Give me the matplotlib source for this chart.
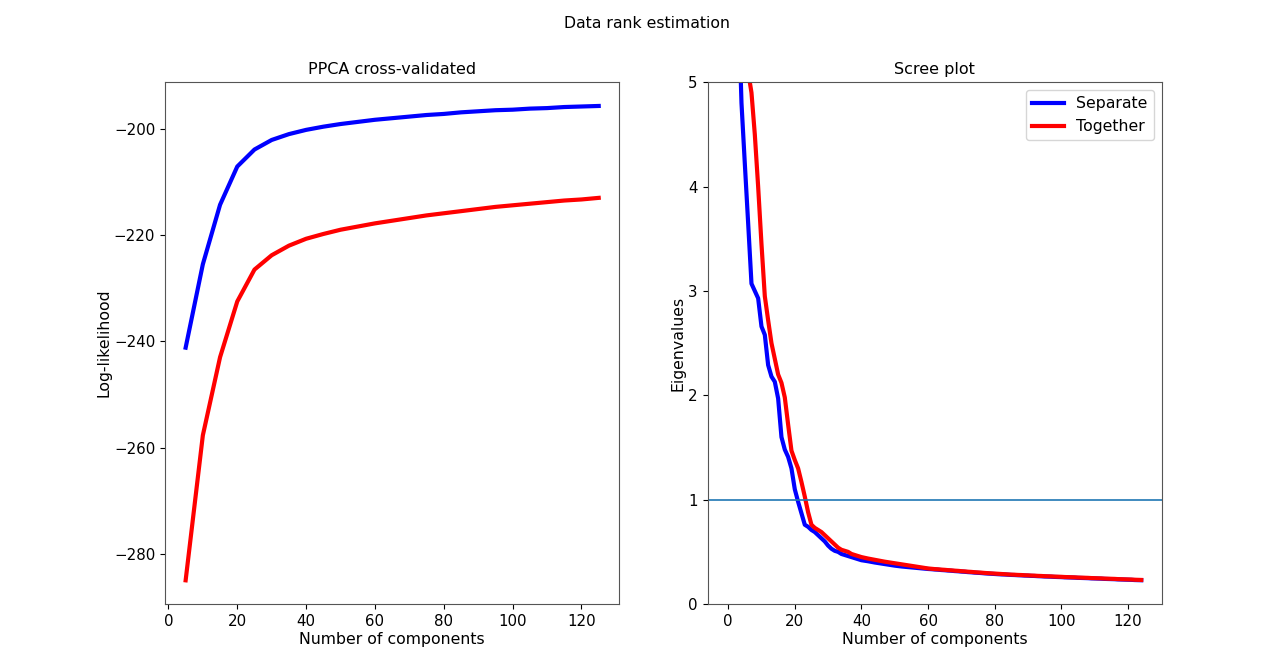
import matplotlib
matplotlib.use("Agg")
import matplotlib.pyplot as plt
import numpy as np

# ---- Data ----
n_components_cv = [5, 10, 15, 20, 25, 30, 35, 40, 45, 50, 55, 60, 65, 70, 75,
                   80, 85, 90, 95, 100, 105, 110, 115, 120, 125]
ll_separate = [-241.2, -225.5, -214.3, -207.1, -203.9, -202.1, -201.0, -200.2,
               -199.6, -199.1, -198.7, -198.3, -198.0, -197.7, -197.4, -197.2,
               -196.9, -196.7, -196.5, -196.4, -196.2, -196.1, -195.9, -195.8,
               -195.7]
ll_together = [-285.0, -257.7, -243.0, -232.5, -226.5, -223.8, -222.0, -220.7,
               -219.8, -219.0, -218.4, -217.8, -217.3, -216.8, -216.3, -215.9,
               -215.5, -215.1, -214.7, -214.4, -214.1, -213.8, -213.5, -213.3,
               -213.0]

eig_separate = [
    30.0, 15.0, 8.0, 5.85, 4.80, 4.22, 3.65, 3.07, 3.00, 2.93,
    2.66, 2.58, 2.29, 2.18, 2.13, 1.97, 1.60, 1.48, 1.41, 1.30,
    1.10, 0.98, 0.87, 0.76, 0.74, 0.71, 0.69, 0.66, 0.63, 0.60,
    0.56, 0.53, 0.51, 0.50, 0.48, 0.47, 0.46, 0.45, 0.44, 0.43,
    0.420, 0.415, 0.410, 0.404, 0.398, 0.393, 0.388, 0.383, 0.378, 0.373,
    0.368, 0.364, 0.360, 0.357, 0.354, 0.351, 0.348, 0.345, 0.342, 0.339,
    0.336, 0.334, 0.331, 0.329, 0.326, 0.324, 0.321, 0.319, 0.316, 0.314,
    0.311, 0.309, 0.306, 0.304, 0.301, 0.299, 0.297, 0.294, 0.292, 0.290,
    0.288, 0.286, 0.284, 0.283, 0.281, 0.279, 0.278, 0.276, 0.275, 0.273,
    0.272, 0.270, 0.269, 0.267, 0.266, 0.264, 0.263, 0.262, 0.260, 0.259,
    0.258, 0.256, 0.255, 0.254, 0.253, 0.251, 0.250, 0.249, 0.248, 0.246,
    0.245, 0.244, 0.243, 0.241, 0.240, 0.239, 0.238, 0.236, 0.235, 0.234,
    0.233, 0.232, 0.230, 0.229, 0.228]

eig_together = [
    40.0, 20.0, 11.0, 7.5, 6.3, 5.7, 5.1, 4.9, 4.5, 4.0,
    3.45, 2.95, 2.72, 2.50, 2.35, 2.20, 2.12, 1.98, 1.72, 1.47,
    1.38, 1.30, 1.17, 1.03, 0.88, 0.76, 0.73, 0.71, 0.69, 0.66,
    0.63, 0.60, 0.57, 0.54, 0.52, 0.51, 0.50, 0.48, 0.47, 0.46,
    0.450, 0.443, 0.436, 0.430, 0.424, 0.418, 0.412, 0.406, 0.401, 0.396,
    0.391, 0.386, 0.381, 0.376, 0.371, 0.366, 0.361, 0.356, 0.351, 0.346,
    0.341, 0.338, 0.335, 0.333, 0.330, 0.328, 0.325, 0.323, 0.320, 0.318,
    0.315, 0.313, 0.310, 0.308, 0.305, 0.303, 0.301, 0.298, 0.296, 0.294,
    0.292, 0.290, 0.288, 0.286, 0.284, 0.282, 0.281, 0.279, 0.278, 0.276,
    0.275, 0.273, 0.272, 0.270, 0.269, 0.267, 0.266, 0.265, 0.263, 0.262,
    0.261, 0.259, 0.258, 0.257, 0.256, 0.254, 0.253, 0.252, 0.251, 0.249,
    0.248, 0.247, 0.246, 0.244, 0.243, 0.242, 0.241, 0.239, 0.238, 0.237,
    0.236, 0.235, 0.233, 0.232, 0.231]

eig_index = list(range(len(eig_separate)))
threshold = 1.0

# ---- Figure ----
fig, (ax1, ax2) = plt.subplots(1, 2, figsize=(12.74, 6.58), dpi=100)
fig.subplots_adjust(left=0.1295, right=0.912, bottom=0.082, top=0.875, wspace=0.194)

label_fs = 11.3
tick_fs = 10.8
title_fs = 11.5
legend_fs = 11.3

fig.suptitle("Data rank estimation", fontsize=11.3, x=0.508, y=0.975)

ax1.plot(n_components_cv, ll_separate, color="blue", lw=3)
ax1.plot(n_components_cv, ll_together, color="red", lw=3)
ax1.set_title("PPCA cross-validated", fontsize=title_fs)
ax1.set_xlabel("Number of components", fontsize=label_fs, labelpad=2)
ax1.set_ylabel("Log-likelihood", fontsize=label_fs, labelpad=1.5)
ax1.tick_params(labelsize=tick_fs)
ax1.set_xticks([0, 20, 40, 60, 80, 100, 120])

ax2.plot(eig_index, eig_separate, color="blue", lw=3, label="Separate")
ax2.plot(eig_index, eig_together, color="red", lw=3, label="Together")
ax2.axhline(threshold, lw=1.2)
ax2.set_ylim(0, 5)
ax2.set_title("Scree plot", fontsize=title_fs)
ax2.set_xlabel("Number of components", fontsize=label_fs, labelpad=2)
ax2.set_ylabel("Eigenvalues", fontsize=label_fs, labelpad=2)
ax2.tick_params(labelsize=tick_fs)
ax2.legend(fontsize=legend_fs, loc="upper right")

for ax in (ax1, ax2):
    for s in ax.spines.values():
        s.set_color("#555555")

fig.savefig("out.png", dpi=100)
